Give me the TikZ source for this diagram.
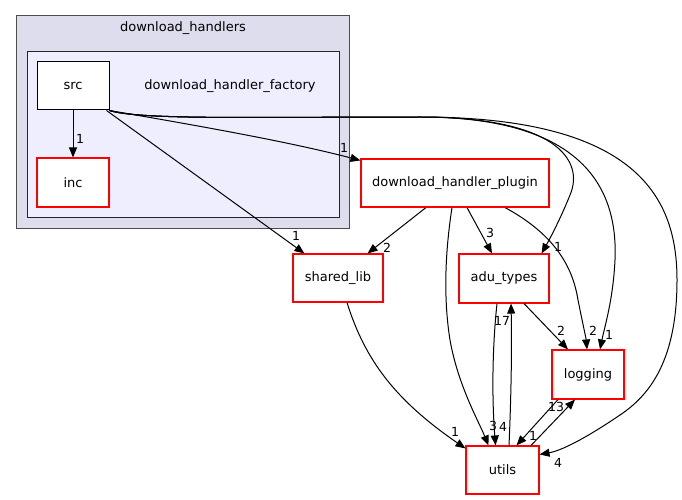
\documentclass[tikz,border=0pt]{standalone}
\usepackage{fontspec}
\setmainfont{DejaVu Sans}
\usetikzlibrary{arrows.meta}

\definecolor{dirred}{RGB}{255,0,0}
\definecolor{outerfill}{RGB}{221,221,238}
\definecolor{innerfill}{RGB}{238,238,255}

\begin{document}
\begin{tikzpicture}[x=1pt,y=-1pt,
  dirbox/.style={draw=dirred,fill=white,line width=1.1pt,inner sep=0pt,font=\fontsize{13}{15}\selectfont},
  title/.style={inner sep=0pt,font=\fontsize{13}{15}\selectfont},
  dep/.style={-{Triangle[length=10pt,width=8pt]},line width=1pt},
  cnt/.style={inner sep=0pt,font=\fontsize{12.5}{14}\selectfont}]

\useasboundingbox (0,0) rectangle (682,500);

% clusters
\draw[fill=outerfill,draw=black!70,line width=1pt] (16,16) rectangle (349,228);
\node[title] (handlers) at (183,28) {download\_handlers};
\draw[fill=innerfill,draw=black!85,line width=1pt] (27,52) rectangle (339,217);
\node[title] (factory) at (230,86) {download\_handler\_factory};

\node[dirbox,draw=black,line width=1pt,minimum width=72pt,minimum height=48pt] (src) at (73,86) {src};
\node[dirbox,minimum width=72pt,minimum height=49pt] (inc) at (73,182.5) {inc};

\node[dirbox,minimum width=188pt,minimum height=48pt] (plugin) at (455,183) {download\_handler\_plugin};
\node[dirbox,minimum width=90pt,minimum height=48pt] (shared) at (338,278) {shared\_lib};
\node[dirbox,minimum width=90pt,minimum height=49pt] (adu) at (504,278.5) {adu\_types};
\node[dirbox,minimum width=72pt,minimum height=49pt] (logging) at (588,374.5) {logging};
\node[dirbox,minimum width=73pt,minimum height=48pt] (utils) at (502.5,470) {utils};

% edges out of src
\draw[dep] (src.south) -- (inc.north);
\node[cnt] (c1) at (80,139) {1};

\draw[dep] (src.south east) .. controls (200,126) and (290,142) .. ([yshift=-2pt]plugin.north west);
\node[cnt] (c2) at (344,148) {1};

\draw[dep] ([xshift=-3pt]src.south east) -- ([xshift=12pt]shared.north west);
\node[cnt] (c3) at (296,236) {1};

\draw[dep] (src.south east) .. controls (140,120) and (250,117) .. (420,117)
  .. controls (555,117) and (585,160) .. (570,195)
  .. controls (562,215) and (552,235) .. ([xshift=-8pt]adu.north east);
\node[cnt] (c4) at (558,247) {1};

\draw[dep] (src.south east) .. controls (140,120) and (250,117) .. (420,117)
  .. controls (585,117) and (618,190) .. (615,260)
  .. controls (613,300) and (605,325) .. ([xshift=12pt]logging.north);
\node[cnt] (c5) at (609,335) {1};

\draw[dep] (src.south east) .. controls (140,120) and (250,117) .. (420,117)
  .. controls (640,117) and (677,200) .. (677,280)
  .. controls (677,360) and (650,395) .. (620,415)
  .. controls (595,432) and (565,450) .. ([yshift=-9pt]utils.north east);
\node[cnt] (c6) at (558,463) {4};

% edges out of download_handler_plugin
\draw[dep] ([xshift=-29pt]plugin.south) -- ([xshift=-16pt]shared.north east);
\node[cnt] (c7) at (387,248) {2};

\draw[dep] ([xshift=12pt]plugin.south) -- ([xshift=-12pt]adu.north);
\node[cnt] (c8) at (490,233) {3};

\draw[dep] ([xshift=50pt]plugin.south) .. controls (550,232) and (572,262) .. (578,300)
  .. controls (583,325) and (586,338) .. ([xshift=-1pt]logging.north);
\node[cnt] (c9) at (593,331) {2};

\draw[dep] ([xshift=-3pt]plugin.south) .. controls (447,240) and (442,290) .. (450,340)
  .. controls (458,385) and (478,420) .. ([xshift=-14pt]utils.north);
\node[cnt] (c10) at (493,426) {3};

% the rest
\draw[dep] ([xshift=20pt]adu.south) -- ([xshift=-20pt]logging.north);
\node[cnt] (c11) at (561,331) {2};

\draw[dep] ([xshift=-7pt]adu.south) .. controls (492,350) and (492,400) .. ([xshift=-7pt]utils.north);
\node[cnt] (c12) at (503,427) {4};

\draw[dep] ([xshift=6.5pt]utils.north) .. controls (511,400) and (512,350) .. ([xshift=7pt]adu.south);
\node[cnt] (c13) at (502,321) {17};

\draw[dep] ([xshift=28.5pt]utils.north) -- ([xshift=-13pt]logging.south);
\node[cnt] (c14) at (556,407) {13};

\draw[dep] ([xshift=-30pt]logging.south) -- ([xshift=14pt]utils.north);
\node[cnt] (c15) at (533,436) {1};

\draw[dep] ([xshift=9pt]shared.south) .. controls (365,360) and (395,400) .. ([yshift=-3pt]utils.north west);
\node[cnt] (c16) at (455,432) {1};

\end{tikzpicture}
\end{document}
